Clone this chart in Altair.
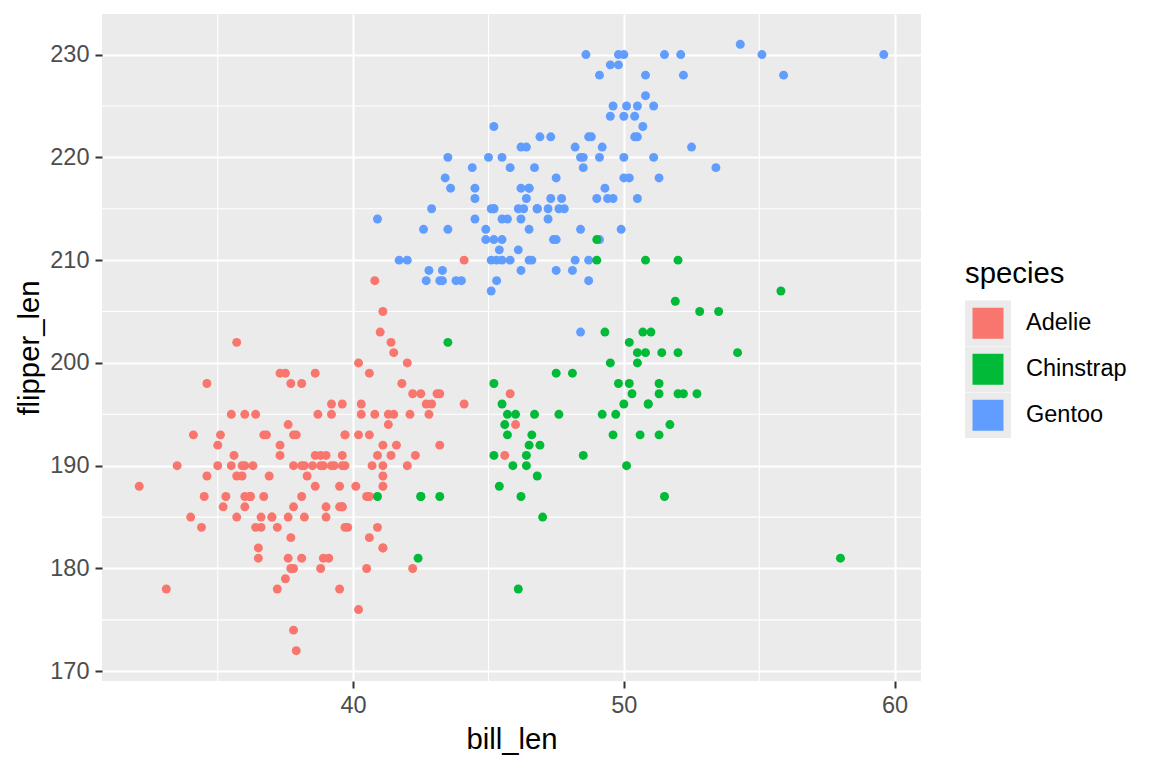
import altair as alt
import pandas as pd

# Palmer penguins: bill length (mm) vs flipper length (mm)
adelie_bill = [39.1, 39.5, 40.3, 36.7, 39.3, 38.9, 39.2, 34.1, 42.0, 37.8, 37.8, 41.1, 38.6, 34.6, 36.6, 38.7,
               42.5, 34.4, 46.0, 37.8, 37.7, 35.9, 38.2, 38.8, 35.3, 40.6, 40.5, 37.9, 40.5, 39.5, 37.2, 39.5,
               40.9, 36.4, 39.2, 38.8, 42.2, 37.6, 39.8, 36.5, 40.8, 36.0, 44.1, 37.0, 39.6, 41.1, 37.5, 36.0,
               42.3, 39.6, 40.1, 35.0, 42.0, 34.5, 41.4, 39.0, 40.6, 36.5, 37.6, 35.7, 41.3, 37.6, 41.1, 36.4,
               41.6, 35.5, 41.1, 35.9, 41.8, 33.5, 39.7, 39.6, 45.8, 35.5, 42.8, 40.9, 37.2, 36.2, 42.1, 34.6,
               42.9, 36.7, 35.1, 37.3, 41.3, 36.3, 36.9, 38.3, 38.9, 35.7, 41.1, 34.0, 39.6, 36.2, 40.8, 38.1,
               40.3, 33.1, 43.2, 35.0, 41.0, 37.7, 37.8, 37.9, 39.7, 38.6, 38.2, 38.1, 43.2, 38.1, 45.6, 39.7,
               42.2, 39.6, 42.7, 38.6, 37.3, 35.7, 41.1, 36.2, 37.7, 40.2, 41.4, 35.2, 40.6, 38.8, 41.5, 39.0,
               44.1, 38.5, 43.1, 36.8, 37.5, 38.1, 41.1, 35.6, 40.2, 37.0, 39.7, 40.2, 40.6, 32.1, 40.7, 37.3,
               39.0, 39.2, 36.6, 36.0, 37.8, 36.0, 41.5]
adelie_flipper = [181, 186, 195, 193, 190, 181, 195, 193, 190, 186, 180, 182, 191, 198, 185, 195,
                  197, 184, 194, 174, 180, 189, 185, 180, 187, 183, 187, 172, 180, 178, 178, 188,
                  184, 195, 196, 190, 180, 181, 184, 182, 195, 186, 196, 185, 190, 182, 179, 190,
                  191, 186, 188, 190, 200, 187, 191, 186, 193, 181, 194, 185, 195, 185, 192, 184,
                  192, 195, 188, 190, 198, 190, 190, 196, 197, 190, 195, 191, 184, 187, 195, 189,
                  196, 187, 193, 191, 194, 190, 189, 189, 190, 202, 205, 185, 186, 187, 208, 190,
                  196, 178, 192, 192, 203, 183, 190, 193, 184, 199, 190, 181, 197, 198, 191, 193,
                  197, 191, 196, 188, 199, 189, 189, 187, 198, 176, 202, 186, 199, 191, 195, 191,
                  210, 190, 197, 193, 199, 187, 190, 191, 200, 185, 193, 193, 187, 188, 190, 192,
                  185, 190, 184, 195, 193, 187, 201]

gentoo_bill = [46.1, 50.0, 48.7, 50.0, 47.6, 46.5, 45.4, 46.7, 43.3, 46.8, 40.9, 49.0, 45.5, 48.4, 45.8, 49.3,
               42.0, 49.2, 46.2, 48.7, 50.2, 45.1, 46.5, 46.3, 42.9, 46.1, 44.5, 47.8, 48.2, 50.0, 47.3, 42.8,
               45.1, 59.6, 49.1, 48.4, 42.6, 44.4, 44.0, 48.7, 42.7, 49.6, 45.3, 49.6, 50.5, 43.6, 45.5, 50.5,
               44.9, 45.2, 46.6, 48.5, 45.1, 50.1, 46.5, 45.0, 43.8, 45.5, 43.2, 50.4, 45.3, 46.2, 45.7, 54.3,
               45.8, 49.8, 46.2, 49.5, 43.5, 50.7, 47.7, 46.4, 48.2, 46.5, 46.4, 48.6, 47.5, 51.1, 45.2, 45.2,
               49.1, 52.5, 47.4, 50.0, 44.9, 50.8, 43.4, 51.3, 47.5, 52.1, 47.5, 52.2, 45.5, 49.5, 44.5, 50.8,
               49.4, 46.9, 48.4, 51.1, 48.5, 55.9, 47.2, 49.1, 47.3, 46.8, 41.7, 53.4, 43.3, 48.1, 50.5, 49.8,
               43.5, 51.5, 46.2, 55.1, 44.5, 48.8, 47.2, 46.8, 50.4, 45.2, 49.9]
gentoo_flipper = [211, 230, 210, 218, 215, 210, 211, 219, 209, 215, 214, 216, 214, 213, 210, 217,
                  210, 221, 209, 222, 218, 215, 213, 215, 215, 215, 216, 215, 210, 220, 222, 209,
                  207, 230, 220, 220, 213, 219, 208, 208, 208, 225, 210, 216, 222, 217, 210, 225,
                  213, 215, 210, 220, 210, 225, 217, 220, 208, 220, 208, 224, 208, 221, 214, 231,
                  219, 230, 214, 229, 220, 223, 216, 221, 221, 217, 216, 230, 209, 220, 215, 223,
                  212, 221, 212, 224, 212, 228, 218, 218, 212, 230, 218, 228, 212, 224, 214, 226,
                  216, 222, 203, 225, 219, 228, 215, 228, 216, 215, 210, 219, 208, 209, 216, 229,
                  213, 230, 217, 230, 217, 222, 214, 215, 222, 212, 213]

chinstrap_bill = [46.5, 50.0, 51.3, 45.4, 52.7, 45.2, 46.1, 51.3, 46.0, 51.3, 46.6, 51.7, 47.0, 52.0, 45.9, 50.5,
                  50.3, 58.0, 46.4, 49.2, 42.4, 48.5, 43.2, 50.6, 46.7, 52.0, 50.5, 49.5, 46.4, 52.8, 40.9, 54.2,
                  42.5, 51.0, 49.7, 47.5, 47.6, 52.0, 46.9, 53.5, 49.0, 46.2, 50.9, 45.5, 50.9, 50.8, 50.1, 49.0,
                  51.5, 49.8, 48.1, 51.4, 45.7, 50.7, 42.5, 52.2, 45.2, 49.3, 50.2, 45.6, 51.9, 46.8, 45.7, 55.8,
                  43.5, 49.6, 50.8, 50.2]
chinstrap_flipper = [192, 196, 193, 188, 197, 198, 178, 197, 195, 198, 193, 194, 185, 201, 190, 201,
                     197, 181, 190, 195, 181, 191, 187, 193, 195, 197, 200, 200, 191, 205, 187, 201,
                     187, 203, 195, 199, 195, 210, 192, 205, 210, 187, 196, 196, 196, 201, 190, 212,
                     187, 198, 199, 201, 193, 203, 187, 197, 191, 203, 202, 194, 206, 189, 195, 207,
                     202, 193, 210, 198]

species = ["Adelie", "Chinstrap", "Gentoo"]
colors = ["#F8766D", "#00BA38", "#619CFF"]
x_ticks = [40, 50, 60]
x_minor = [35, 45, 55]
y_ticks = [170, 180, 190, 200, 210, 220, 230]
y_minor = [175, 185, 195, 205, 215, 225]

# drawing order as in the data file: Adelie, Gentoo, Chinstrap
df = pd.concat([
    pd.DataFrame({"bill_len": adelie_bill, "flipper_len": adelie_flipper, "species": "Adelie"}),
    pd.DataFrame({"bill_len": gentoo_bill, "flipper_len": gentoo_flipper, "species": "Gentoo"}),
    pd.DataFrame({"bill_len": chinstrap_bill, "flipper_len": chinstrap_flipper, "species": "Chinstrap"}),
], ignore_index=True)

xs = alt.Scale(domain=[30.725, 60.975], nice=False, zero=False)
ys = alt.Scale(domain=[169.05, 233.95], nice=False, zero=False)
x_axis = alt.Axis(values=x_ticks, titlePadding=9, labelPadding=5)
y_axis = alt.Axis(values=y_ticks, titlePadding=5, labelPadding=6)

minor_v = alt.Chart(pd.DataFrame({"v": x_minor})).mark_rule(color="white", strokeWidth=1.1).encode(
    x=alt.X("v:Q", scale=xs, title="bill_len", axis=x_axis)
)
minor_h = alt.Chart(pd.DataFrame({"v": y_minor})).mark_rule(color="white", strokeWidth=1.1).encode(
    y=alt.Y("v:Q", scale=ys, title="flipper_len", axis=y_axis)
)

points = alt.Chart(df).mark_circle(size=80, opacity=1).encode(
    x=alt.X("bill_len:Q", scale=xs, title="bill_len", axis=x_axis),
    y=alt.Y("flipper_len:Q", scale=ys, title="flipper_len", axis=y_axis),
    color=alt.Color("species:N", scale=alt.Scale(domain=species, range=colors),
                    legend=alt.Legend(title="species", orient="none", legendX=863, legendY=246,
                                      symbolType="square", symbolSize=1480,
                                      symbolStrokeColor="#EBEBEB", symbolStrokeWidth=7.5,
                                      symbolOpacity=1, titlePadding=11, labelOffset=15,
                                      rowPadding=0, clipHeight=46)),
)

chart = alt.layer(minor_v, minor_h, points).properties(
    width=819, height=667,
    padding={"left": 94, "top": 6, "right": 223, "bottom": 79},
    autosize=alt.AutoSizeParams(type="none"),
).configure_view(
    fill="#EBEBEB", strokeWidth=0
).configure_axis(
    domain=False, grid=True, gridColor="white", gridWidth=2.1,
    tickColor="#333333", tickWidth=2, tickSize=7,
    labelColor="#4D4D4D", labelFontSize=23.5, labelFont="Liberation Sans",
    titleColor="black", titleFontSize=29.3, titleFont="Liberation Sans", titleFontWeight="normal",
).configure_legend(
    titleFont="Liberation Sans", titleFontSize=29.3, titleFontWeight="normal", titleColor="black",
    labelFont="Liberation Sans", labelFontSize=23.5, labelColor="black",
)

chart.save("out.html", embed_options={"renderer": "svg", "actions": False})
